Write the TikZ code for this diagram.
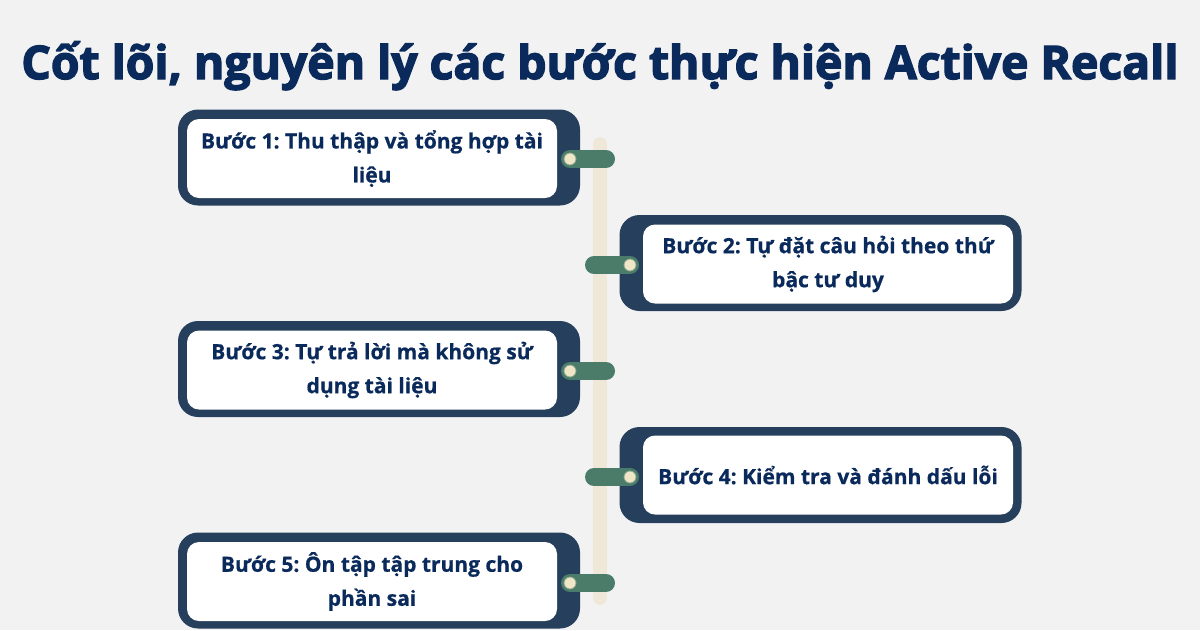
\documentclass[tikz,border=0pt]{standalone}
\usepackage{fontspec}
\setmainfont{Open Sans}[BoldFeatures={FakeBold=0.6}]
\newfontfamily\titlefont{Open Sans}[BoldFeatures={FakeBold=3}]
\frenchspacing
\definecolor{bgc}{HTML}{F2F2F2}
\definecolor{boxc}{HTML}{263F5C}
\definecolor{txtc}{HTML}{0B2A5C}
\definecolor{barc}{HTML}{4B7C6A}
\definecolor{dotc}{HTML}{EFE6C8}
\definecolor{spinec}{HTML}{EFE8D9}
\tikzset{
  outerbox/.style={rounded corners=20pt, fill=boxc, minimum width=402pt, minimum height=96pt, inner sep=0pt},
  innerbox/.style={rounded corners=12pt, fill=white, minimum width=370pt, minimum height=79pt, inner sep=0pt, align=center, text=txtc, font=\frenchspacing\bfseries\fontsize{21}{34}\selectfont},
  bar/.style={draw=barc, line width=18pt, line cap=round},
  dot/.style={circle, fill=dotc, draw=barc!60!dotc, line width=0.8pt, minimum size=12pt, inner sep=0pt},
  spine/.style={draw=spinec, line width=14pt, line cap=round},
}
\begin{document}
\begin{tikzpicture}[x=1pt,y=-1pt]
\fill[bgc] (0,0) rectangle (1200,630);
\useasboundingbox (0,0) rectangle (1200,630);
\node[anchor=base, text=txtc, font=\titlefont\bfseries\fontsize{46.3}{52}\selectfont] (title) at (600,79) {Cốt lõi, nguyên lý các bước thực hiện Active Recall};
% spine
\coordinate (top) at (600,144);
\coordinate (bot) at (600,598);
\draw[spine] (top) -- (bot);
% boxes
\node[outerbox] (o1) at (379,157.5) {};
\node[innerbox] (b1) at (372,158.5) {Bước 1: Thu thập và tổng hợp tài\\liệu};
\node[outerbox] (o2) at (820.5,263) {};
\node[innerbox] (b2) at (828,264) {Bước 2: Tự đặt câu hỏi theo thứ\\bậc tư duy};
\node[outerbox] (o3) at (379,369) {};
\node[innerbox] (b3) at (372,370) {Bước 3: Tự trả lời mà không sử\\dụng tài liệu};
\node[outerbox] (o4) at (820.5,475) {};
\node[innerbox] (b4) at (828,475) {Bước 4: Kiểm tra và đánh dấu lỗi};
\node[outerbox] (o5) at (379,580.5) {};
\node[innerbox] (b5) at (372,581.5) {Bước 5: Ôn tập tập trung cho\\phần sai};
% connectors
\coordinate (s1) at (606,159);
\coordinate (s2) at (594,265);
\coordinate (s3) at (606,371);
\coordinate (s4) at (594,477);
\coordinate (s5) at (606,583);
\node[dot] (d1) at (570,159) {};
\node[dot] (d2) at (630,265) {};
\node[dot] (d3) at (570,371) {};
\node[dot] (d4) at (630,477) {};
\node[dot] (d5) at (570,583) {};
\draw[bar] (d1.center) -- (s1);
\draw[bar] (d2.center) -- (s2);
\draw[bar] (d3.center) -- (s3);
\draw[bar] (d4.center) -- (s4);
\draw[bar] (d5.center) -- (s5);
\foreach \i in {1,...,5}{\node[dot] at (d\i) {};}
\end{tikzpicture}
\end{document}
